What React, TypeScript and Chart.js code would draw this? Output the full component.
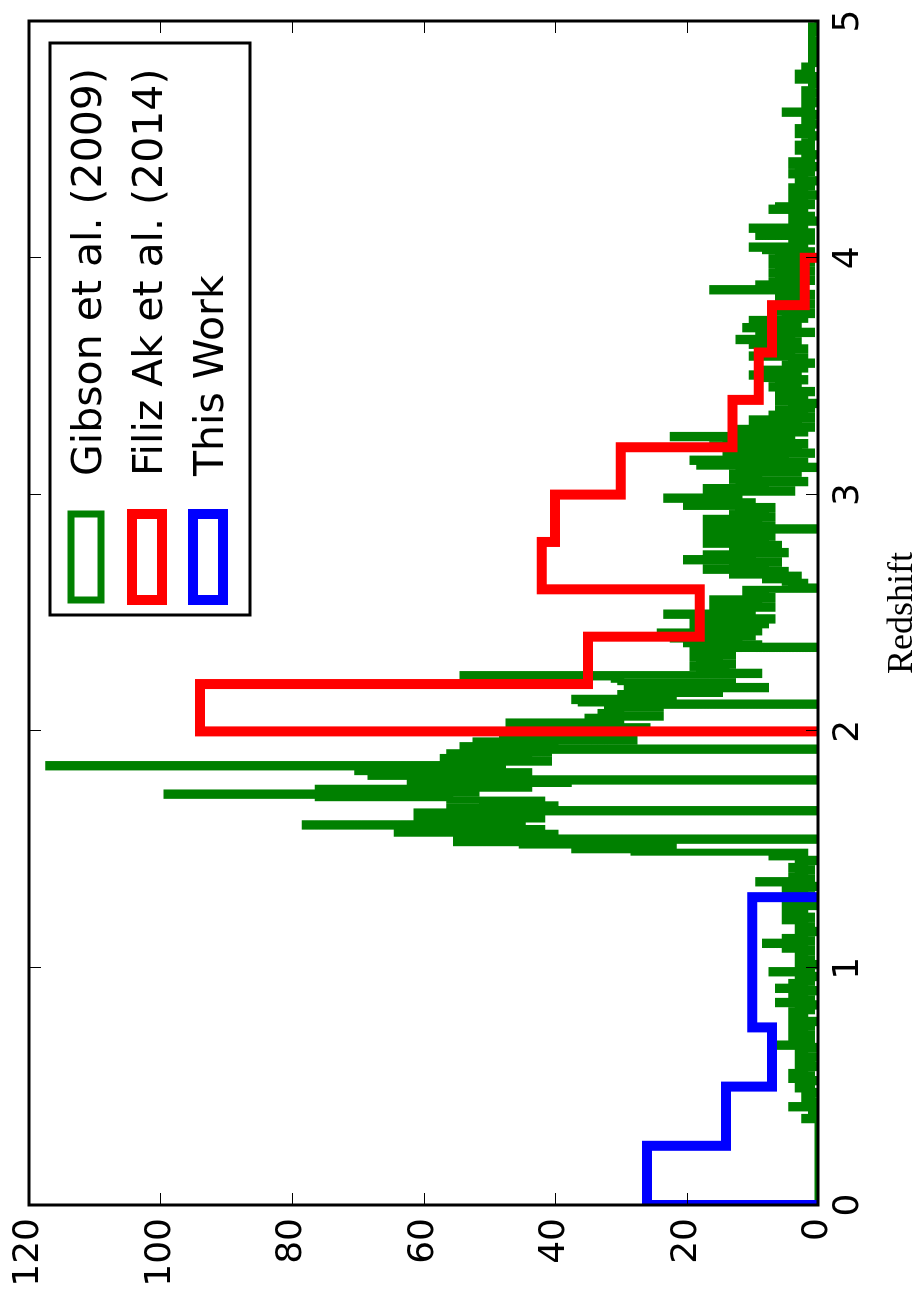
import React, { useEffect, useRef } from 'react';
import { Chart, registerables } from 'chart.js';

Chart.register(...registerables);

// ---------------- data ----------------
// Gibson et al. (2009): counts per redshift bin of width 0.01, from z = 0.00 to 5.00
const gibsonBinWidth = 0.01;
const gibsonCounts = [
  0, 0, 0, 0, 0, 0, 0, 0, 0, 0,
  0, 0, 0, 0, 0, 0, 0, 0, 0, 0,
  0, 0, 0, 0, 0, 0, 0, 0, 0, 0,
  0, 0, 0, 0, 0, 0, 2, 0, 0, 1,
  0, 4, 1, 0, 2, 1, 2, 0, 1, 3,
  1, 3, 0, 4, 1, 4, 2, 3, 0, 3,
  1, 3, 0, 3, 2, 3, 0, 6, 2, 1,
  4, 1, 4, 2, 4, 1, 4, 0, 3, 4,
  2, 4, 1, 3, 0, 6, 1, 4, 2, 4,
  0, 6, 2, 4, 1, 3, 0, 3, 7, 1,
  3, 0, 3, 1, 3, 2, 3, 1, 5, 2,
  8, 1, 5, 2, 3, 0, 3, 1, 3, 2,
  5, 1, 5, 2, 4, 5, 0, 5, 3, 4,
  1, 5, 2, 5, 0, 5, 9, 1, 4, 2,
  3, 1, 4, 2, 3, 0, 3, 7, 2, 28,
  37, 22, 45, 55, 0, 55, 40, 64, 42, 60,
  78, 45, 61, 42, 48, 61, 0, 56, 40, 51,
  42, 56, 76, 99, 52, 76, 44, 62, 38, 0,
  62, 68, 44, 70, 48, 117, 57, 41, 57, 44,
  56, 41, 0, 54, 40, 52, 28, 48, 35, 46,
  28, 26, 44, 47, 30, 35, 24, 33, 30, 32,
  24, 0, 36, 37, 22, 30, 15, 29, 8, 29,
  13, 30, 31, 54, 9, 18, 14, 19, 13, 18,
  15, 19, 13, 17, 19, 0, 9, 20, 12, 22,
  10, 24, 9, 14, 19, 8, 19, 7, 16, 23,
  10, 16, 7, 16, 9, 16, 7, 11, 8, 11,
  0, 4, 2, 5, 8, 3, 13, 5, 17, 8,
  13, 6, 20, 10, 17, 5, 8, 13, 6, 17,
  8, 17, 7, 15, 17, 0, 7, 17, 9, 17,
  7, 13, 8, 12, 7, 20, 10, 16, 23, 12,
  17, 4, 17, 8, 12, 2, 13, 9, 13, 3,
  12, 0, 18, 2, 19, 5, 14, 1, 12, 3,
  16, 2, 14, 4, 22, 12, 2, 12, 1, 10,
  3, 10, 1, 7, 2, 6, 1, 4, 0, 6,
  5, 2, 6, 1, 6, 7, 3, 6, 2, 8,
  10, 3, 8, 2, 5, 1, 4, 2, 10, 4,
  9, 2, 7, 10, 3, 12, 4, 9, 1, 8,
  11, 3, 7, 10, 2, 5, 1, 6, 2, 5,
  1, 5, 2, 6, 1, 5, 16, 2, 9, 7,
  1, 6, 2, 7, 1, 6, 3, 7, 1, 7,
  2, 6, 1, 8, 10, 2, 4, 1, 4, 9,
  1, 8, 10, 2, 4, 0, 4, 1, 4, 2,
  7, 6, 1, 4, 2, 4, 0, 4, 2, 4,
  1, 3, 0, 3, 2, 4, 1, 3, 0, 4,
  4, 1, 2, 0, 2, 3, 1, 3, 2, 1,
  1, 0, 3, 1, 3, 2, 0, 2, 1, 2,
  0, 5, 2, 1, 2, 0, 2, 1, 2, 0,
  2, 1, 1, 0, 1, 3, 0, 3, 1, 2,
  2, 1, 0, 1, 1, 0, 1, 1, 0, 1,
  1, 0, 1, 1, 1, 0, 1, 1, 0, 0,
];

// Filiz Ak et al. (2014)
const filizEdges = [2.0, 2.2, 2.4, 2.6, 2.8, 3.0, 3.2, 3.4, 3.6, 3.8, 4.0];
const filizCounts = [94, 35, 18, 42, 40, 30, 13, 9, 7, 2];

// This Work
const thisWorkEdges = [0, 0.25, 0.5, 0.75, 1.3];
const thisWorkCounts = [26, 14, 7, 10];

const redshiftTicks = [0, 1, 2, 3, 4, 5];
const countTicks = [0, 20, 40, 60, 80, 100, 120];

const seriesLabels = ['Gibson et al. (2009)', 'Filiz Ak et al. (2014)', 'This Work'];
const seriesColors = ['#008000', '#ff0000', '#0000ff'];
const seriesWidths = [7, 10, 10];

// ---------------- helpers ----------------
function stepPoints(edges: number[], counts: number[]) {
  const pts: { x: number; y: number }[] = [{ x: edges[0], y: 0 }];
  counts.forEach((c, i) => pts.push({ x: edges[i], y: c }));
  pts.push({ x: edges[edges.length - 1], y: 0 });
  return pts;
}

const gibsonEdges = Array.from({ length: gibsonCounts.length + 1 }, (_, i) =>
  Math.round(i * gibsonBinWidth * 1000) / 1000
);

const W = 1289;
const H = 915;

const framePlugin = {
  id: 'frameTicks',
  afterDatasetsDraw(chart: any) {
    const { ctx, chartArea: a, scales } = chart;
    const tl = 12;
    ctx.save();
    ctx.strokeStyle = '#000';
    ctx.lineWidth = 1;
    ctx.beginPath();
    redshiftTicks.forEach((t) => {
      const x = Math.round(scales.x.getPixelForValue(t)) + 0.5;
      ctx.moveTo(x, a.bottom);
      ctx.lineTo(x, a.bottom - tl);
      ctx.moveTo(x, a.top);
      ctx.lineTo(x, a.top + tl);
    });
    countTicks.forEach((t) => {
      const y = Math.round(scales.y.getPixelForValue(t)) + 0.5;
      ctx.moveTo(a.left, y);
      ctx.lineTo(a.left + tl, y);
      ctx.moveTo(a.right, y);
      ctx.lineTo(a.right - tl, y);
    });
    ctx.stroke();
    ctx.lineWidth = 3;
    ctx.strokeRect(a.left, a.top, a.right - a.left, a.bottom - a.top);
    ctx.restore();
  },
};

const legendPlugin = {
  id: 'boxLegend',
  afterDraw(chart: any) {
    const { ctx, chartArea: a } = chart;
    const boxRight = a.right - 22;
    const boxLeft = boxRight - 572;
    const boxTop = a.top + 21;
    const boxH = 200;
    ctx.save();
    ctx.fillStyle = '#ffffff';
    ctx.fillRect(boxLeft, boxTop, boxRight - boxLeft, boxH);
    ctx.lineWidth = 3;
    ctx.strokeStyle = '#000';
    ctx.strokeRect(boxLeft, boxTop, boxRight - boxLeft, boxH);
    seriesLabels.forEach((label, i) => {
      const cy = boxTop + 36 + i * 61;
      ctx.lineJoin = 'miter';
      ctx.lineWidth = seriesWidths[i];
      ctx.strokeStyle = seriesColors[i];
      ctx.strokeRect(boxLeft + 15, cy - 15, 86, 30);
      ctx.fillStyle = '#000';
      ctx.font = '41px "DejaVu Sans"';
      ctx.textAlign = 'left';
      ctx.textBaseline = 'alphabetic';
      ctx.fillText(label, boxLeft + 139, cy + 15);
    });
    ctx.restore();
  },
};

export default function App() {
  const canvasRef = useRef<HTMLCanvasElement | null>(null);

  useEffect(() => {
    document.body.style.margin = '0';
    document.body.style.overflow = 'hidden';
    const canvas = canvasRef.current;
    if (!canvas) return;
    const lineDs = (label: string, data: any, i: number, order: number) => ({
      label,
      data,
      borderColor: seriesColors[i],
      backgroundColor: seriesColors[i],
      borderWidth: seriesWidths[i],
      borderJoinStyle: 'miter',
      borderCapStyle: 'butt',
      pointRadius: 0,
      pointHoverRadius: 0,
      fill: false,
      tension: 0,
      stepped: 'before',
      clip: 0,
      order,
    });
    const chart = new Chart(canvas, {
      type: 'line',
      data: {
        datasets: [
          lineDs(seriesLabels[0], stepPoints(gibsonEdges, gibsonCounts), 0, 3),
          lineDs(seriesLabels[1], stepPoints(filizEdges, filizCounts), 1, 2),
          lineDs(seriesLabels[2], stepPoints(thisWorkEdges, thisWorkCounts), 2, 1),
        ] as any,
      },
      options: {
        animation: false,
        responsive: false,
        devicePixelRatio: 1,
        events: [],
        layout: { padding: { top: 29, right: 21, left: 0, bottom: 0 } },
        plugins: { legend: { display: false }, tooltip: { enabled: false } },
        scales: {
          x: {
            type: 'linear',
            min: 0,
            max: 5,
            afterFit: (s: any) => {
              s.height = 97;
            },
            grid: { display: false, drawTicks: false },
            border: { display: false },
            ticks: {
              stepSize: 1,
              autoSkip: false,
              maxRotation: 0,
              padding: 9,
              color: '#000',
              font: { family: 'DejaVu Sans', size: 36 },
            },
            title: {
              display: true,
              text: 'Redshift',
              color: '#000',
              font: { family: 'Liberation Serif', size: 36, lineHeight: 0.6 },
              padding: { top: 0, bottom: 2 },
            },
          },
          y: {
            type: 'linear',
            min: 0,
            max: 120,
            afterFit: (s: any) => {
              s.width = 84;
            },
            grid: { display: false, drawTicks: false },
            border: { display: false },
            ticks: {
              stepSize: 20,
              autoSkip: false,
              padding: 13,
              color: '#000',
              font: { family: 'DejaVu Sans', size: 36, lineHeight: 0.8 },
            },
          },
        },
      } as any,
      plugins: [framePlugin, legendPlugin],
    });
    return () => chart.destroy();
  }, []);

  return (
    <div
      style={{
        position: 'absolute',
        left: 0,
        top: 0,
        width: H,
        height: W,
        overflow: 'hidden',
        background: '#ffffff',
      }}
    >
      <div
        style={{
          position: 'absolute',
          left: 0,
          top: 0,
          width: W,
          height: H,
          transformOrigin: '0 0',
          transform: `translate(0px, ${W}px) rotate(-90deg)`,
        }}
      >
        <canvas ref={canvasRef} width={W} height={H} style={{ width: W, height: H, display: 'block' }} />
      </div>
    </div>
  );
}
